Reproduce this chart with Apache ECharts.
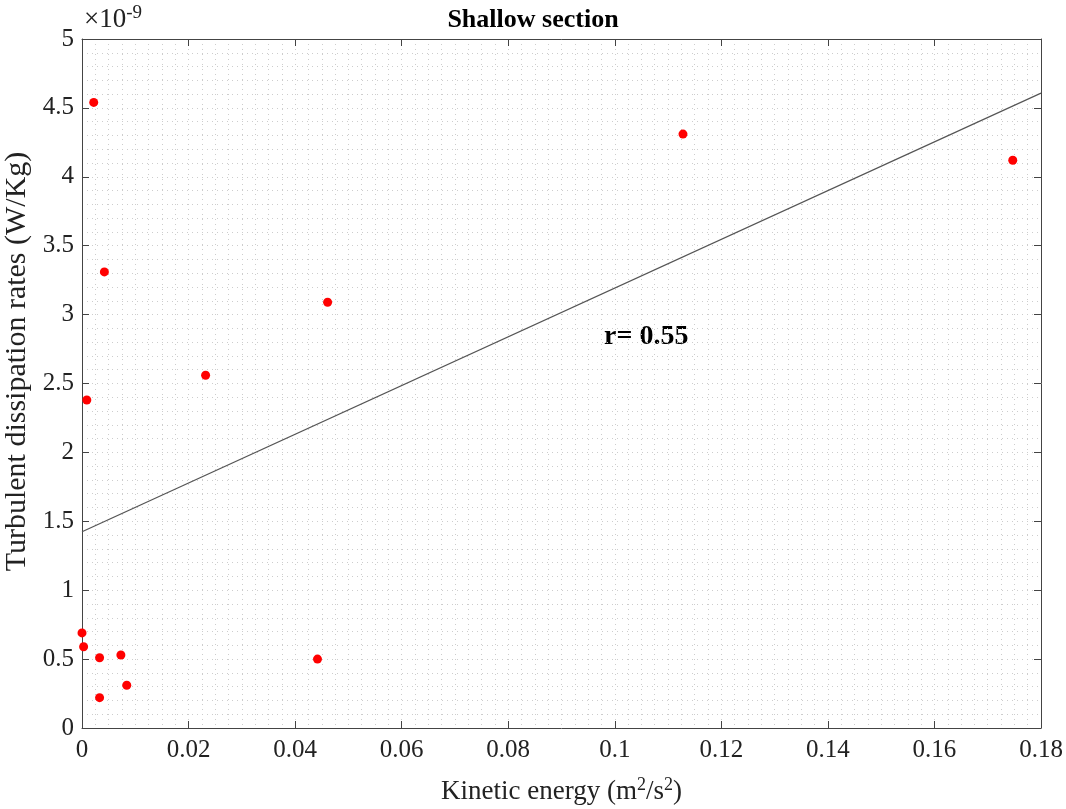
<!DOCTYPE html>
<html>
<head>
<meta charset="utf-8">
<script src="https://cdn.jsdelivr.net/npm/echarts@6/dist/echarts.min.js"></script>
<style>
  html, body { margin: 0; padding: 0; background: #fff; }
  #chart { width: 1066px; height: 809px; }
</style>
</head>
<body>
<div id="chart"></div>
<script>
// measured points: kinetic energy (m^2/s^2) and dissipation rate (units of 1e-9 W/Kg)
var kineticEnergy = [0.0022, 0.0042, 0.0009, 0.0232, 0.0461, 0.1128, 0.1747, 0.0000, 0.0003, 0.0033, 0.0073, 0.0084, 0.0033, 0.0442];
var dissipation   = [4.54,   3.31,   2.38,   2.56,   3.09,   4.31,   4.12,   0.69,   0.59,   0.51,   0.53,   0.31,   0.22,   0.50];

// regression line end points
var fitX = [0, 0.18];
var fitY = [1.424, 4.607];

var xTicks = [0, 0.02, 0.04, 0.06, 0.08, 0.1, 0.12, 0.14, 0.16, 0.18];
var yTicks = [0, 0.5, 1, 1.5, 2, 2.5, 3, 3.5, 4, 4.5, 5];

var font = 'Liberation Serif';
var axisCol = '#444';
var dotLine = { type: [1, 4], color: '#cdcdcd', width: 1 };

var scatterData = kineticEnergy.map(function (x, i) { return [x, dissipation[i]]; });
var lineData = fitX.map(function (x, i) { return [x, fitY[i]]; });

var chart = echarts.init(document.getElementById('chart'));

// plain box side (top / right) with inner ticks only
function boxAxis(pos, min, max, step) {
  return {
    type: 'value', position: pos,
    min: min, max: max, interval: step,
    axisLine: { show: true, onZero: false, lineStyle: { color: axisCol } },
    axisTick: { show: true, inside: true, length: 7, lineStyle: { color: axisCol } },
    axisLabel: { show: false },
    splitLine: { show: false }
  };
}

var option = {
  animation: false,
  textStyle: { fontFamily: font },
  title: {
    text: 'Shallow section',
    left: 'center',
    top: 2,
    textStyle: { fontFamily: font, fontSize: 26, fontWeight: 'bold', color: '#000' }
  },
  grid: { left: 82, right: 25, top: 39, bottom: 81, containLabel: false, outerBoundsMode: 'none' },
  xAxis: [{
    type: 'value',
    min: 0, max: 0.18, interval: 0.02,
    axisLine: { show: true, onZero: false, lineStyle: { color: axisCol } },
    axisTick: { show: true, inside: true, length: 7, lineStyle: { color: axisCol } },
    minorTick: { show: false, splitNumber: 8 },
    axisLabel: {
      fontFamily: font, fontSize: 25, color: '#222', margin: 10,
      formatter: function (v) { return String(+v.toFixed(2)); }
    },
    splitLine: { show: true, lineStyle: dotLine },
    minorSplitLine: { show: true, lineStyle: dotLine },
    name: '{a|Kinetic energy (m}{s|2}{a|/s}{s|2}{a|)}',
    nameLocation: 'middle',
    nameGap: 48,
    nameTextStyle: {
      rich: {
        a: { fontFamily: font, fontSize: 27, color: '#222' },
        s: { fontFamily: font, fontSize: 18, color: '#222', verticalAlign: 'top', padding: [0, 0, 14, 0] }
      }
    }
  }, boxAxis('top', 0, 0.18, 0.02)],
  yAxis: [{
    type: 'value',
    min: 0, max: 5, interval: 0.5,
    axisLine: { show: true, onZero: false, lineStyle: { color: axisCol } },
    axisTick: { show: true, inside: true, length: 7, lineStyle: { color: axisCol } },
    minorTick: { show: false, splitNumber: 5 },
    axisLabel: { fontFamily: font, fontSize: 25, color: '#222', margin: 8 },
    splitLine: { show: true, lineStyle: dotLine },
    minorSplitLine: { show: true, lineStyle: dotLine },
    name: 'Turbulent dissipation rates (W/Kg)',
    nameLocation: 'middle',
    nameGap: 45,
    nameTextStyle: { fontFamily: font, fontSize: 30, color: '#222', padding: [0, 0, 0, 44] }
  }, boxAxis('right', 0, 5, 0.5)],
  graphic: [{
    type: 'text',
    left: 84, top: 4,
    style: {
      text: '{a|\u00d710}{s|-9}',
      rich: {
        a: { fontFamily: font, fontSize: 27, fill: '#222' },
        s: { fontFamily: font, fontSize: 19, fill: '#222', verticalAlign: 'top', padding: [0, 0, 12, 0] }
      }
    }
  }, {
    type: 'text',
    left: 604, top: 323,
    style: { text: 'r= 0.55', font: 'bold 28px "Liberation Serif"', fill: '#000' }
  }],
  series: [{
    type: 'line',
    data: lineData,
    symbol: 'none',
    lineStyle: { color: '#555', width: 1.2 },
    z: 2
  }, {
    type: 'scatter',
    data: scatterData,
    symbolSize: 9,
    itemStyle: { color: '#ff0000', opacity: 1 },
    z: 3
  }]
};

chart.setOption(option);
</script>
</body>
</html>
